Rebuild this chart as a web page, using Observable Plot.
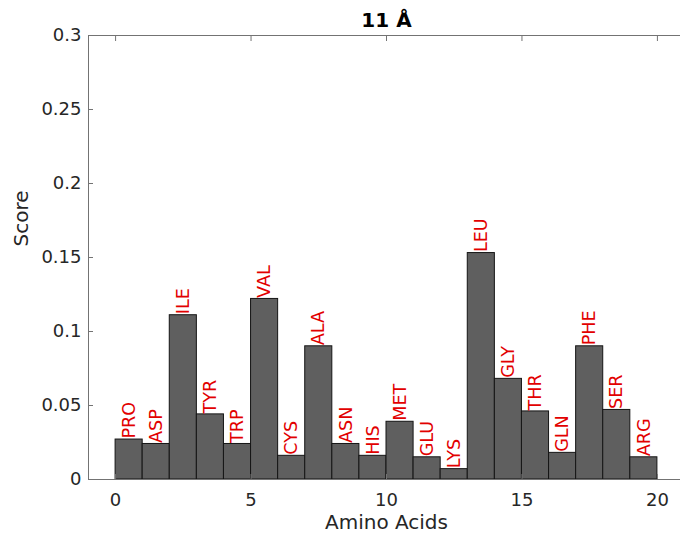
<!DOCTYPE html>
<html><head><meta charset="utf-8">
<script src="https://cdn.jsdelivr.net/npm/d3@7"></script>
<script src="https://cdn.jsdelivr.net/npm/@observablehq/plot@0.6"></script>
<style>body{margin:0;background:#fff;overflow:hidden}</style>
</head><body><div id="chart"></div>
<script>
const aminoAcids = ["PRO","ASP","ILE","TYR","TRP","VAL","CYS","ALA","ASN","HIS","MET","GLU","LYS","LEU","GLY","THR","GLN","PHE","SER","ARG"];
const scores = [0.027,0.024,0.111,0.044,0.024,0.122,0.016,0.090,0.024,0.016,0.039,0.015,0.007,0.153,0.068,0.046,0.018,0.090,0.047,0.015];
const xTicks = [0,5,10,15,20];
const xTickLabels = ["0","5","10","15","20"];
const yTicks = [0,0.05,0.1,0.15,0.2,0.25,0.3];
const yTickLabels = ["0","0.05","0.1","0.15","0.2","0.25","0.3"];
const title = "11 Å";
const xLabel = "Amino Acids";
const yLabel = "Score";

const data = aminoAcids.map((name, i) => ({name, i, score: scores[i]}));
const font = "'DejaVu Sans', sans-serif";
const axisColor = "#737373";
const textColor = "#262626";

const chart = Plot.plot({
  width: 680, height: 536,
  marginTop: 35, marginBottom: 57, marginLeft: 88, marginRight: -4,
  style: {fontFamily: font, background: "white", color: textColor},
  x: {domain: [-1, 21]},
  y: {domain: [0, 0.3]},
  marks: [
    Plot.rectY(data, {x1: "i", x2: d => d.i + 1, y: "score", fill: "#5f5f5f", stroke: "#151515", strokeWidth: 1}),
    Plot.text(data, {x: d => d.i + 0.5, y: "score", text: "name", rotate: -90, textAnchor: "start", lineAnchor: "middle", fill: "#e20000", fontSize: 17.6, dy: -1}),
    Plot.frame({stroke: axisColor}),
    Plot.axisX({anchor: "bottom", ticks: xTicks, tickSize: -5, tickPadding: 19, fontSize: 18, label: null, stroke: axisColor, fill: textColor, tickFormat: d => xTickLabels[xTicks.indexOf(d)]}),
    Plot.axisX({anchor: "top", ticks: xTicks, tickSize: -5, label: null, stroke: axisColor, tickFormat: () => ""}),
    Plot.axisY({anchor: "left", ticks: yTicks, tickSize: -5, tickPadding: 12, fontSize: 18, label: null, stroke: axisColor, fill: textColor, tickFormat: d => yTickLabels[yTicks.indexOf(d)]}),
    Plot.axisY({anchor: "right", ticks: yTicks, tickSize: -5, label: null, stroke: axisColor, tickFormat: () => ""}),
    Plot.text([xLabel], {frameAnchor: "bottom", dy: 43, lineAnchor: "middle", fontSize: 20, fill: textColor}),
    Plot.text([yLabel], {frameAnchor: "left", dx: -67, dy: -11, rotate: -90, lineAnchor: "middle", fontSize: 20, fill: textColor}),
    Plot.text([title], {frameAnchor: "top", dy: -14.5, lineAnchor: "middle", fontSize: 20, fontWeight: "bold", fill: "#000"})
  ]
});
document.getElementById("chart").append(chart);
</script>
</body></html>
